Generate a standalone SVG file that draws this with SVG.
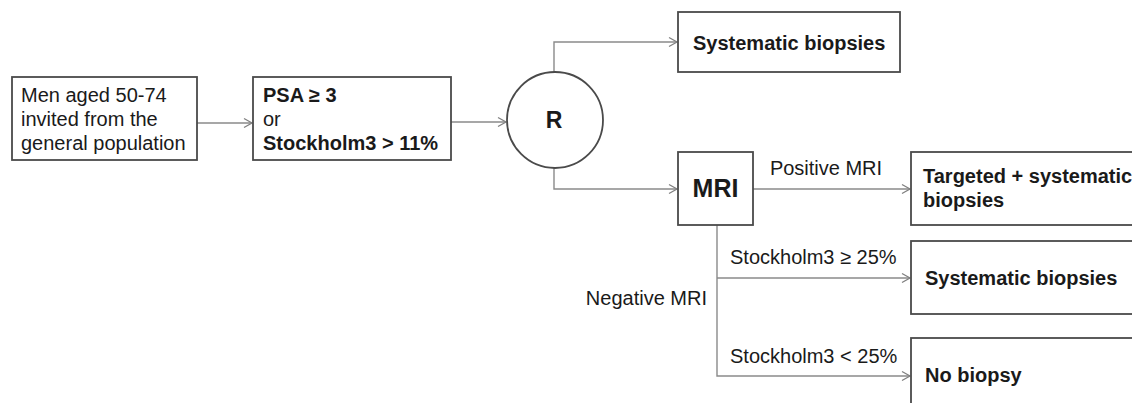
<svg xmlns="http://www.w3.org/2000/svg" width="1132" height="403" viewBox="0 0 1132 403">
  <defs>
    <marker id="arr" markerUnits="userSpaceOnUse" markerWidth="12" markerHeight="12" refX="9" refY="5" orient="auto" overflow="visible">
      <path d="M1,0.5 L9,5 L1,9.5" fill="none" stroke="#808080" stroke-width="1.3"/>
    </marker>
    <style>
      .box { fill: #ffffff; stroke: #4a4a4a; stroke-width: 1.8; }
      .conn { fill: none; stroke: #8a8a8a; stroke-width: 1.4; }
      .t { font-family: "Liberation Sans", Arial, sans-serif; font-size: 20px; fill: #1a1a1a; }
      .b { font-weight: bold; }
    </style>
  </defs>
  <rect width="1132" height="403" fill="#ffffff"/>

  <g id="connectors">
    <line class="conn" x1="197" y1="123" x2="252" y2="123" marker-end="url(#arr)"/>
    <line class="conn" x1="451" y1="122" x2="506" y2="122" marker-end="url(#arr)"/>
    <polyline class="conn" points="554,72 554,42 677,42" marker-end="url(#arr)"/>
    <polyline class="conn" points="554,168 554,189 677,189" marker-end="url(#arr)"/>
    <line class="conn" x1="753" y1="189" x2="910" y2="189" marker-end="url(#arr)"/>
    <polyline class="conn" points="717,225 717,376 910,376" marker-end="url(#arr)"/>
    <line class="conn" x1="717" y1="278" x2="910" y2="278" marker-end="url(#arr)"/>
    <text class="t" x="826" y="175" text-anchor="middle">Positive MRI</text>
    <text class="t" x="707" y="305" text-anchor="end">Negative MRI</text>
    <text class="t" x="730" y="264">Stockholm3 ≥ 25%</text>
    <text class="t" x="730" y="363">Stockholm3 &lt; 25%</text>
  </g>

  <g id="n-men">
    <rect class="box" x="12" y="77" width="185" height="83"/>
    <text class="t" x="21" y="102">Men aged 50-74</text>
    <text class="t" x="21" y="126">invited from the</text>
    <text class="t" x="21" y="150">general population</text>
  </g>

  <g id="n-psa">
    <rect class="box" x="253" y="77" width="198" height="83"/>
    <text class="t b" x="263" y="102">PSA ≥ 3</text>
    <text class="t" x="263" y="126">or</text>
    <text class="t b" x="263" y="150">Stockholm3 &gt; 11%</text>
  </g>

  <g id="n-r">
    <circle class="box" cx="555" cy="120" r="48"/>
    <text class="t b" x="554" y="128" text-anchor="middle" style="font-size:23px">R</text>
  </g>

  <g id="n-sys1">
    <rect class="box" x="678" y="12" width="222" height="60"/>
    <text class="t b" x="693" y="50">Systematic biopsies</text>
  </g>

  <g id="n-mri">
    <rect class="box" x="678" y="152" width="75" height="73"/>
    <text class="t b" x="715.5" y="197" text-anchor="middle" style="font-size:25px">MRI</text>
  </g>

  <g id="n-targeted">
    <rect class="box" x="911" y="152" width="230" height="73"/>
    <text class="t b" x="923" y="183">Targeted + systematic</text>
    <text class="t b" x="923" y="207">biopsies</text>
  </g>

  <g id="n-sys2">
    <rect class="box" x="911" y="241" width="230" height="73"/>
    <text class="t b" x="925" y="285">Systematic biopsies</text>
  </g>

  <g id="n-nobiopsy">
    <rect class="box" x="911" y="338" width="230" height="80"/>
    <text class="t b" x="925" y="382">No biopsy</text>
  </g>
</svg>
